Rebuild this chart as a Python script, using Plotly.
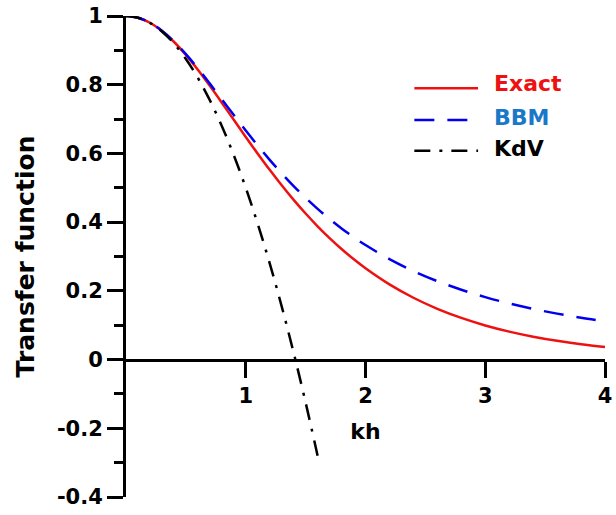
import plotly.graph_objects as go

# kh sample points
kh = [0.0, 0.1, 0.2, 0.3, 0.4, 0.5, 0.6, 0.7, 0.8, 0.9, 1.0, 1.1, 1.2, 1.3, 1.4, 1.5,
      1.6, 1.7, 1.8, 1.9, 2.0, 2.2, 2.4, 2.6, 2.8, 3.0, 3.2, 3.4, 3.6, 3.8, 4.0]
exact = [1.0, 0.99502, 0.98033, 0.95663, 0.92501, 0.88682, 0.84355, 0.79670, 0.74770,
         0.69779, 0.64805, 0.59933, 0.55229, 0.50738, 0.46492, 0.42510, 0.38798,
         0.35357, 0.32180, 0.29259, 0.26580, 0.21892, 0.17996, 0.14773, 0.12117,
         0.09933, 0.08139, 0.06667, 0.05461, 0.04472, 0.03662]
bbm = [1.0, 0.99502, 0.98039, 0.95694, 0.92593, 0.88889, 0.84746, 0.80321, 0.75758,
       0.71174, 0.66667, 0.62305, 0.58140, 0.54201, 0.50505, 0.47059, 0.43860,
       0.40900, 0.38168, 0.35651, 0.33333, 0.29240, 0.25773, 0.22831, 0.20325,
       0.18182, 0.16340, 0.14749, 0.13369, 0.12165, 0.11111]
kh_kdv = [0.0, 0.1, 0.2, 0.3, 0.4, 0.5, 0.6, 0.7, 0.8, 0.9, 1.0, 1.1, 1.2, 1.3, 1.4, 1.5, 1.6]
kdv = [1.0, 0.995, 0.98, 0.955, 0.92, 0.875, 0.82, 0.755, 0.68, 0.595, 0.5, 0.395,
       0.28, 0.155, 0.02, -0.125, -0.28]

y_ticks = [-0.4, -0.2, 0, 0.2, 0.4, 0.6, 0.8, 1]
y_tick_labels = ["-0.4", "-0.2", "0", "0.2", "0.4", "0.6", "0.8", "1"]
x_ticks = [1, 2, 3, 4]
x_tick_labels = ["1", "2", "3", "4"]

RED = "#ee1111"
BLUE = "#0000ee"
BLUE_TXT = "#1a78c8"
BLACK = "#000000"
BBM_DASH = "20px,13px"
KDV_DASH = "16px,9px,3px,9px"
FONT = "DejaVu Sans, Liberation Sans, Arial, sans-serif"

fig = go.Figure()
fig.add_trace(go.Scatter(x=kh, y=exact, mode="lines", name="Exact",
                         line=dict(color=RED, width=2.5, shape="spline")))
fig.add_trace(go.Scatter(x=kh, y=bbm, mode="lines", name="BBM",
                         line=dict(color=BLUE, width=2.5, dash=BBM_DASH, shape="spline")))
fig.add_trace(go.Scatter(x=kh_kdv, y=kdv, mode="lines", name="KdV",
                         line=dict(color=BLACK, width=2.5, dash=KDV_DASH, shape="spline")))

y0_pos = 0.4 / 1.4

fig.update_layout(
    width=616, height=515,
    margin=dict(l=126, r=4, t=12, b=18),
    paper_bgcolor="white", plot_bgcolor="white",
    showlegend=False,
    font=dict(family=FONT, color="black", size=20),
    xaxis=dict(range=[0, 4], anchor="free", position=y0_pos,
               showgrid=False, zeroline=False,
               showline=True, linewidth=3, linecolor="black",
               ticks="outside", ticklen=16, tickwidth=3, tickcolor="black",
               tickvals=x_ticks, ticktext=x_tick_labels,
               ticklabeloverflow="allow",
               tickfont=dict(family=FONT, size=21, weight="bold"),
               title=dict(text="<b>kh</b>", font=dict(family=FONT, size=22), standoff=16)),
    yaxis=dict(range=[-0.4, 1.0], showgrid=False, zeroline=False,
               showline=True, linewidth=3, linecolor="black",
               ticks="outside", ticklen=16, tickwidth=3, tickcolor="black",
               tickvals=y_ticks, ticktext=y_tick_labels,
               tickfont=dict(family=FONT, size=21, weight="bold"),
               minor=dict(dtick=0.1, tick0=0, ticks="outside", ticklen=9,
                          tickwidth=3, tickcolor="black"),
               title=dict(text="<b>Transfer function</b>", font=dict(family=FONT, size=25),
                          standoff=16)),
)

# custom legend
leg = [("Exact", RED, RED, "solid", 0.850, 0.860),
       ("BBM", BLUE, BLUE_TXT, BBM_DASH, 0.784, 0.790),
       ("KdV", BLACK, BLACK, KDV_DASH, 0.720, 0.725)]
for name, lc, tc, dash, ly, ty in leg:
    fig.add_shape(type="line", xref="paper", yref="paper",
                  x0=0.602, x1=0.735, y0=ly, y1=ly,
                  line=dict(color=lc, width=2.5, dash=dash))
    fig.add_annotation(xref="paper", yref="paper", x=0.765, y=ty,
                       xanchor="left", yanchor="middle", showarrow=False,
                       text=f"<b>{name}</b>",
                       font=dict(family=FONT, size=22, color=tc))

fig.write_html("out.html")
